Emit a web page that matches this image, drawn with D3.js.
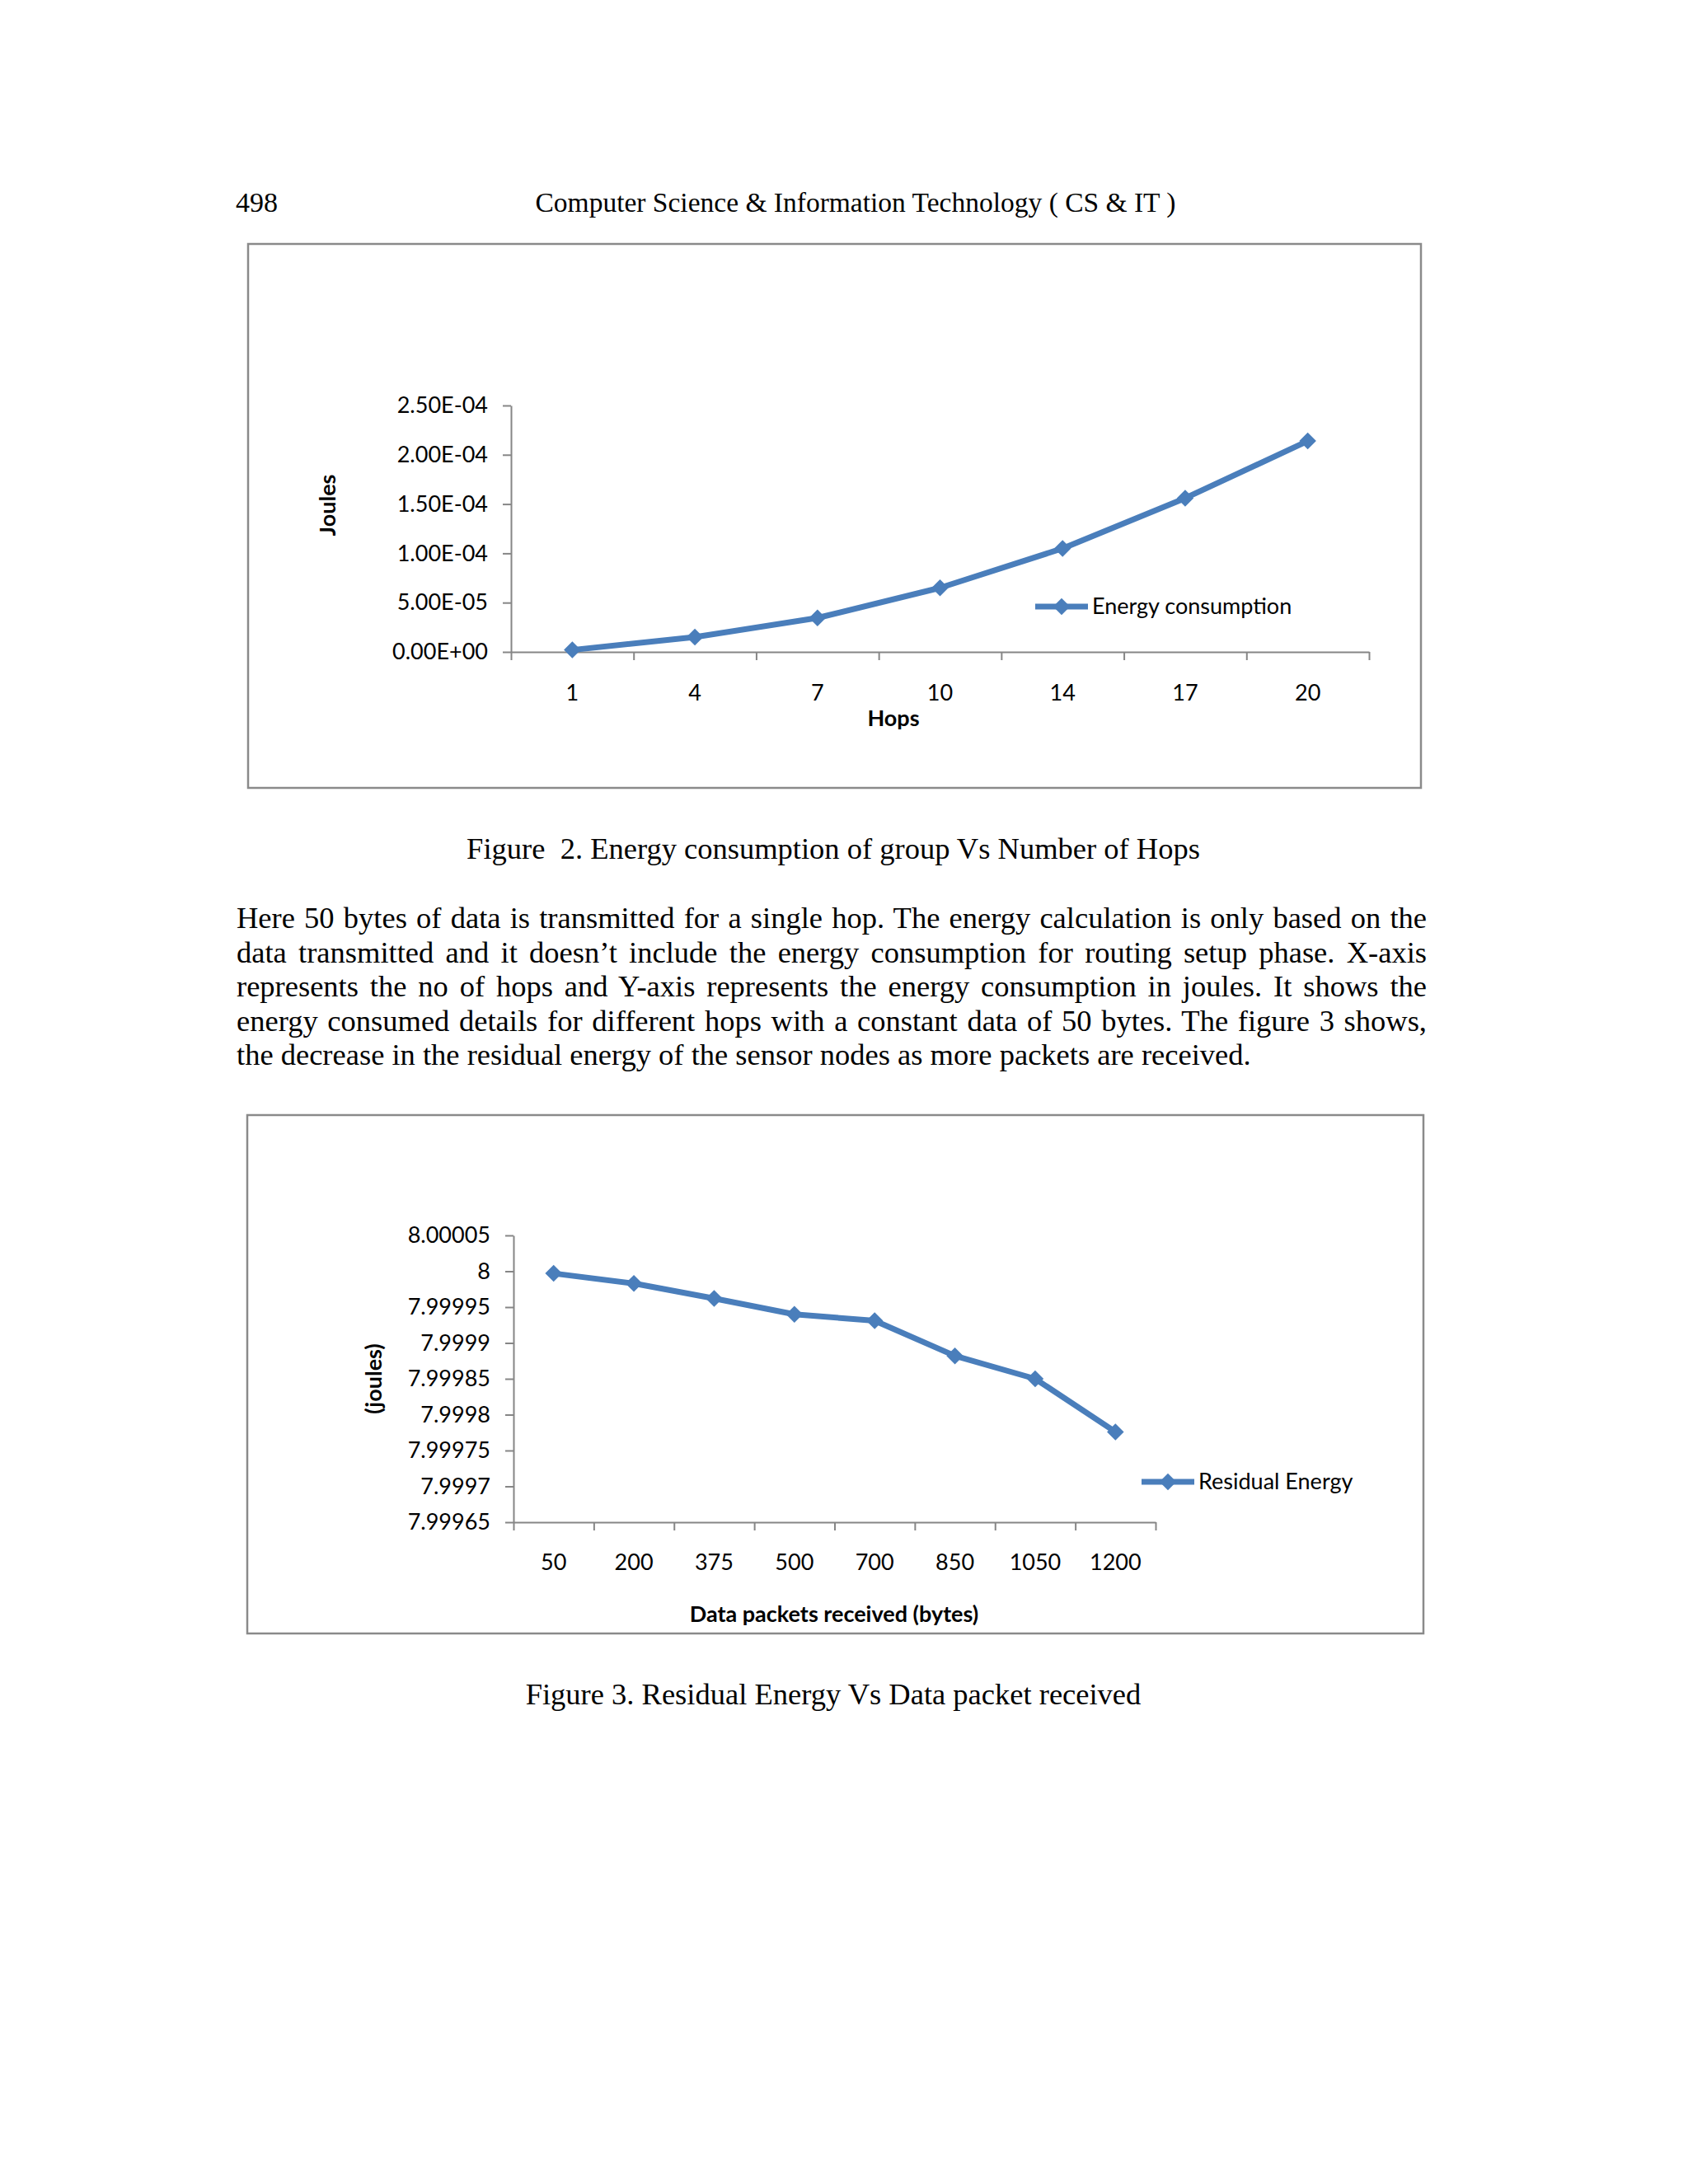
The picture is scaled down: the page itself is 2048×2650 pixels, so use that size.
<!DOCTYPE html>
<html>
<head>
<meta charset="utf-8">
<script src="https://cdn.jsdelivr.net/npm/d3@7"></script>
<style>
  html, body { margin: 0; padding: 0; background: #fff; }
  svg text { fill: #000; }
  .serif { font-family: "Liberation Serif", "Times New Roman", serif; }
  .chart text { font-family: Lato, "Open Sans", sans-serif; }
  .axis path, .axis line { stroke: #868686; stroke-width: 2; }
</style>
</head>
<body>
<div id="page"></div>
<script>
// figure 2 data
var hops = ['1', '4', '7', '10', '14', '17', '20']
var energyUsed = [2e-6, 1.5e-5, 3.45e-5, 6.5e-5, 1.05e-4, 1.56e-4, 2.14e-4]
var energyTicks = [0, 5e-5, 1e-4, 1.5e-4, 2e-4, 2.5e-4]

// figure 3 data
var packets = ['50', '200', '375', '500', '700', '850', '1050', '1200']
var residual = [7.999997, 7.999983, 7.999962, 7.99994, 7.999931, 7.999882, 7.99985, 7.999776]
var residualTicks = [7.99965, 7.9997, 7.99975, 7.9998, 7.99985, 7.9999, 7.99995, 8, 8.00005]

var paragraph = [
  'Here 50 bytes of data is transmitted for a single hop. The energy calculation is only based on the',
  'data transmitted and it doesn\u2019t include the energy consumption for routing setup phase. X-axis',
  'represents the no of hops and Y-axis represents the energy consumption in joules. It shows the',
  'energy consumed details for different hops with a constant data of 50 bytes. The figure 3 shows,',
  'the decrease in the residual energy of the sensor nodes as more packets are received.'
]

var blue = '#4a7ebb'

var svg = d3.select('#page').append('svg')
  .attr('width', 2048)
  .attr('height', 2650)

// page header
svg.append('text').attr('class', 'serif')
  .attr('x', 286).attr('y', 257)
  .style('font-size', '34px')
  .text('498')
svg.append('text').attr('class', 'serif')
  .attr('x', 1038).attr('y', 257)
  .attr('text-anchor', 'middle')
  .style('font-size', '33.5px')
  .text('Computer Science & Information Technology ( CS & IT )')

function sci(v) {
  var s = d3.format('.2e')(v).toUpperCase()
  return s.replace(/E([+-])(\d)$/, 'E$10$2')
}

function drawChart(opt) {
  var g = svg.append('g').attr('class', 'chart')

  g.append('rect')
    .attr('x', opt.box[0]).attr('y', opt.box[1])
    .attr('width', opt.box[2]).attr('height', opt.box[3])
    .attr('fill', 'none')
    .attr('stroke', '#8a8a8a')
    .attr('stroke-width', 2.5)

  var x = d3.scaleBand()
    .domain(opt.categories)
    .range([opt.left, opt.right])

  var edges = d3.scaleLinear()
    .domain([0, opt.categories.length])
    .range([opt.left, opt.right])

  var y = d3.scaleLinear()
    .domain(d3.extent(opt.ticks))
    .range([opt.bottom, opt.top])

  // y axis
  var yAxis = d3.axisLeft(y)
    .tickValues(opt.ticks)
    .tickFormat(opt.format)
    .tickSize(10)
    .tickSizeOuter(0)
    .tickPadding(18)
  g.append('g')
    .attr('class', 'axis')
    .attr('transform', 'translate(' + opt.left + ',0)')
    .call(yAxis)
    .selectAll('text')
    .style('font-size', '27px')
    .style('font-family', 'Lato')

  // x axis, ticks sit between categories
  var xAxis = d3.axisBottom(edges)
    .tickValues(d3.range(opt.categories.length + 1))
    .tickFormat('')
    .tickSize(10)
    .tickSizeOuter(0)
  g.append('g')
    .attr('class', 'axis')
    .attr('transform', 'translate(0,' + opt.bottom + ')')
    .call(xAxis)

  var labels = g.append('g')
    .attr('transform', 'translate(0,' + opt.bottom + ')')
    .call(d3.axisBottom(x).tickSize(0))
  labels.select('.domain').remove()
  labels.selectAll('text')
    .attr('y', opt.xLabelOffset)
    .attr('dy', '0.35em')
    .style('font-size', '27px')
    .style('font-family', 'Lato')

  // axis titles
  g.append('text')
    .attr('x', opt.xTitle[0]).attr('y', opt.xTitle[1])
    .attr('dy', '0.35em')
    .attr('text-anchor', 'middle')
    .style('font-size', '27px')
    .style('font-weight', 'bold')
    .text(opt.xTitleText)
  g.append('text')
    .attr('transform', 'translate(' + opt.yTitle[0] + ',' + opt.yTitle[1] + ') rotate(-90)')
    .attr('dy', '0.35em')
    .attr('text-anchor', 'middle')
    .style('font-size', '27px')
    .style('font-weight', 'bold')
    .text(opt.yTitleText)

  var cx = function(d, i) { return x(opt.categories[i]) + x.bandwidth() / 2 }

  var line = d3.line()
    .x(cx)
    .y(function(d) { return y(d) })

  g.append('path')
    .datum(opt.values)
    .attr('d', line)
    .attr('fill', 'none')
    .attr('stroke', blue)
    .attr('stroke-width', 7)
    .attr('stroke-linejoin', 'round')

  var marker = d3.symbol().type(d3.symbolSquare).size(210)
  g.selectAll('.marker')
    .data(opt.values)
    .enter().append('path')
    .attr('class', 'marker')
    .attr('d', marker)
    .attr('fill', blue)
    .attr('transform', function(d, i) {
      return 'translate(' + cx(d, i) + ',' + y(d) + ') rotate(45)'
    })

  // legend
  var lg = g.append('g').attr('transform', 'translate(' + opt.legend[0] + ',' + opt.legend[1] + ')')
  lg.append('line')
    .attr('x1', 0).attr('x2', 64)
    .attr('stroke', blue)
    .attr('stroke-width', 7)
  lg.append('path')
    .attr('d', marker)
    .attr('fill', blue)
    .attr('transform', 'translate(32,0) rotate(45)')
  lg.append('text')
    .attr('x', 69)
    .attr('dy', '0.35em')
    .style('font-size', '27px')
    .text(opt.legendText)
}

drawChart({
  box: [301, 296, 1423, 660],
  categories: hops,
  values: energyUsed,
  ticks: energyTicks,
  format: sci,
  left: 620, right: 1661, top: 492, bottom: 791,
  xLabelOffset: 50,
  xTitle: [1084, 872], xTitleText: 'Hops',
  yTitle: [398, 613], yTitleText: 'Joules',
  legend: [1256, 736], legendText: 'Energy consumption'
})

drawChart({
  box: [300, 1353, 1427, 629],
  categories: packets,
  values: residual,
  ticks: residualTicks,
  format: d3.format('.5~f'),
  left: 623, right: 1402, top: 1499, bottom: 1847,
  xLabelOffset: 49,
  xTitle: [1012, 1959], xTitleText: 'Data packets received (bytes)',
  yTitle: [454, 1673], yTitleText: '(joules)',
  legend: [1385, 1798], legendText: 'Residual Energy'
})

// captions and body text
svg.append('text').attr('class', 'serif')
  .attr('x', 1011).attr('y', 1042)
  .attr('text-anchor', 'middle')
  .style('font-size', '36.5px')
  .style('white-space', 'pre')
  .text('Figure  2. Energy consumption of group Vs Number of Hops')

var textWidth = 1444
var rows = svg.append('g').selectAll('text')
  .data(paragraph)
  .enter().append('text')
  .attr('class', 'serif')
  .attr('x', 287)
  .attr('y', function(d, i) { return 1126 + i * 41.6 })
  .style('font-size', '36.5px')
  .text(function(d) { return d })

// justify every line but the last by widening the gaps between words
rows.each(function(d, i) {
  if (i === paragraph.length - 1) return
  var gaps = d.split(' ').length - 1
  var spare = textWidth - this.getComputedTextLength()
  d3.select(this).style('word-spacing', (spare / gaps) + 'px')
})

svg.append('text').attr('class', 'serif')
  .attr('x', 1011).attr('y', 2068)
  .attr('text-anchor', 'middle')
  .style('font-size', '36.5px')
  .text('Figure 3. Residual Energy Vs Data packet received')
</script>
</body>
</html>
